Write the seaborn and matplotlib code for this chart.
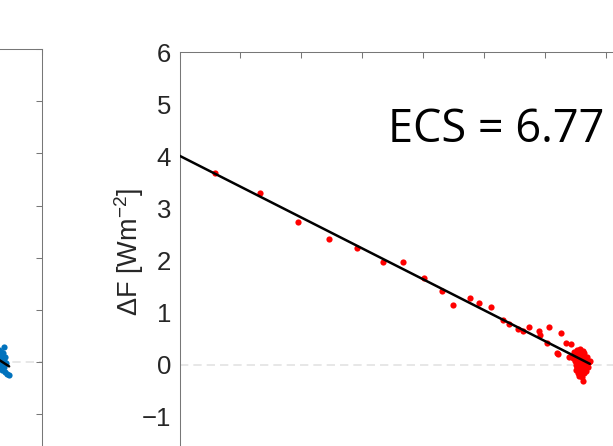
import matplotlib
matplotlib.use("Agg")
import matplotlib.pyplot as plt
import seaborn as sns
import numpy as np

# --- data -------------------------------------------------------------
# right panel: annual-mean (dT, dF) pairs of the abrupt-forcing run
red_dT = [1.17, 2.65, 3.90, 4.90, 5.82, 6.68, 7.35, 8.03, 8.62, 8.98, 9.55,
          9.85, 10.25, 10.63, 10.82, 11.11, 11.29, 11.49, 11.82, 11.85, 12.14,
          12.08, 12.55, 12.69, 12.85, 12.39, 12.45, 12.80,
          12.95, 13.05, 13.15, 13.25, 13.30, 13.00, 13.10, 13.20, 13.35, 13.45,
          12.98, 13.08, 13.18, 13.28, 13.38, 13.05, 13.15, 13.25, 13.35, 13.10,
          13.20, 13.30, 13.12, 13.22, 13.26, 13.40, 13.48, 13.02, 13.32, 13.18,
          12.93, 13.12, 13.22, 13.42, 13.03, 13.14, 13.24, 13.33, 13.17, 13.28]
red_dF = [3.67, 3.30, 2.73, 2.41, 2.24, 1.97, 1.97, 1.67, 1.42, 1.15, 1.28,
          1.19, 1.10, 0.85, 0.78, 0.68, 0.65, 0.73, 0.65, 0.57, 0.73,
          0.41, 0.60, 0.42, 0.39, 0.22, 0.20, 0.14,
          0.25, 0.28, 0.30, 0.27, 0.22, 0.18, 0.15, 0.12, 0.10, 0.05,
          0.08, 0.05, 0.02, 0.00, -0.02, -0.05, -0.08, -0.10, -0.12, -0.15,
          -0.18, -0.16, -0.22, -0.24, -0.32, 0.15, 0.08, 0.00, 0.05, 0.20,
          0.12, 0.24, 0.18, -0.05, -0.10, -0.02, 0.08, -0.06, -0.13, 0.16]
red_fit_intercept = 4.01
ecs_red = 6.77
red_fit_xmax = 13.48

# left panel: second model
blue_dT = [14.75, 14.65, 14.72, 14.68, 14.78, 14.64, 14.74, 14.82, 14.66,
           14.76, 14.70, 14.80, 14.90, 14.84, 14.62, 14.60, 14.58, 14.55]
blue_dF = [0.29, 0.20, 0.18, 0.12, 0.10, 0.05, 0.02, -0.02, -0.06,
           -0.10, -0.15, -0.18, -0.24, -0.22, 0.15, -0.12, 0.24, 0.02]
blue_fit_intercept = 5.53
blue_fit_slope = -0.376
blue_fit_xmax = 14.92

yticks = [-2, -1, 0, 1, 2, 3, 4, 5, 6]
xticks = [0, 2, 4, 6, 8, 10, 12, 14, 16]

# --- style ------------------------------------------------------------
sns.set_style("white")
plt.rcParams["font.family"] = ["Liberation Sans", "DejaVu Sans"]
plt.rcParams["mathtext.fontset"] = "custom"
plt.rcParams["mathtext.rm"] = "Liberation Sans"
plt.rcParams["mathtext.default"] = "regular"

W, H = 613, 446
fig = plt.figure(figsize=(W / 100, H / 100), dpi=100)

SPINE = "#777777"
TXT = "#262626"


def frame(ax):
    ax.set_xlim(0, 16)
    ax.set_ylim(-2, 6)
    ax.set_xticks(xticks)
    ax.set_yticks(yticks)
    for s in ax.spines.values():
        s.set_color(SPINE)
        s.set_linewidth(0.75)
        s.set_visible(True)
    ax.tick_params(direction="in", length=4, width=0.75, color=SPINE,
                   top=True, right=True, labelsize=18.5, labelcolor=TXT, pad=6)
    ax.axhline(0, color="#e3e3e3", lw=1.2, ls=(0, (5, 3)), zorder=0)


# left panel (mostly outside the canvas)
axl = fig.add_axes([-445 / W, (H - 466.6) / H, 487 / W, 417.6 / H])
frame(axl)
sns.scatterplot(x=blue_dT, y=blue_dF, ax=axl, color="#0072BD", s=20,
                linewidth=0, zorder=3)
xb = np.array([0, blue_fit_xmax])
sns.lineplot(x=xb, y=blue_fit_intercept + blue_fit_slope * xb, ax=axl,
             color="black", lw=1.8, zorder=4)

# right panel
axr = fig.add_axes([179.5 / W, (H - 469) / H, 487 / W, 417 / H])
frame(axr)
sns.scatterplot(x=red_dT, y=red_dF, ax=axr, color="#FF0000", s=20,
                linewidth=0, zorder=3)
red_slope = -red_fit_intercept / (2 * ecs_red)
xr = np.array([0, red_fit_xmax])
sns.lineplot(x=xr, y=red_fit_intercept + red_slope * xr, ax=axr,
             color="black", lw=1.8, zorder=4)
axr.set_ylabel("ΔF [Wm$^{-2}$]", fontsize=19.5, color=TXT)
axr.yaxis.set_label_coords(-0.068, 0.52)

fig.text(388 / W, 1 - 142 / H, f"ECS = {ecs_red:.2f}", family="Open Sans",
         fontsize=32.5, color="black", ha="left", va="baseline")

fig.savefig("out.png", dpi=100)
